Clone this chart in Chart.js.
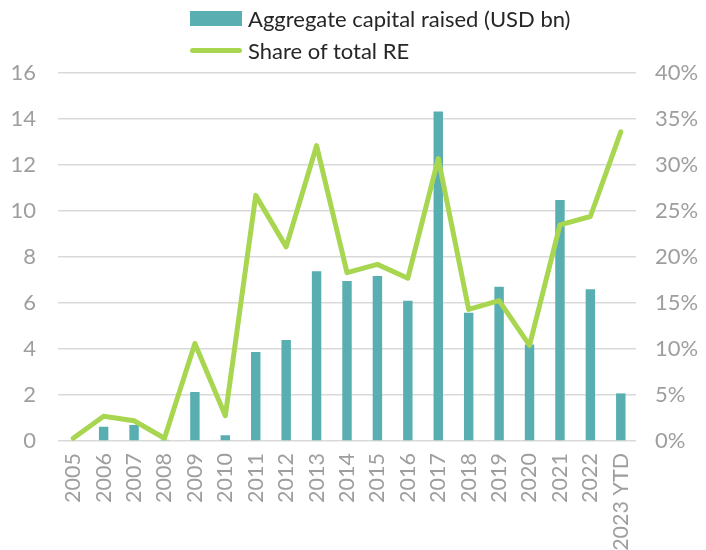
<!DOCTYPE html>
<html>
<head>
<meta charset="utf-8">
<script src="https://cdn.jsdelivr.net/npm/chart.js@4.4.0/dist/chart.umd.min.js"></script>
<style>
  html, body { margin: 0; padding: 0; background: #fff; }
  #wrap { position: relative; width: 706px; height: 550px; }
  #legend { position: absolute; left: 190px; top: 2px; font-family: Lato, sans-serif; font-size: 22px; color: #262626; }
  .item { display: flex; align-items: center; height: 32px; }
  .swatch { width: 52px; margin-right: 6px; }
</style>
</head>
<body>
<div id="wrap">
  <canvas id="chart" width="706" height="550"></canvas>
  <div id="legend"></div>
</div>
<script>
// ==========================================================================
// CAPITAL RAISED VS SHARE OF TOTAL RE
// ==========================================================================

const years = ['2005', '2006', '2007', '2008', '2009', '2010', '2011', '2012', '2013', '2014',
  '2015', '2016', '2017', '2018', '2019', '2020', '2021', '2022', '2023 YTD'];
const capitalRaised = [0, 0.62, 0.70, 0.05, 2.13, 0.25, 3.87, 4.39, 7.38, 6.96,
  7.17, 6.10, 14.33, 5.58, 6.71, 4.20, 10.48, 6.60, 2.07];
const shareOfRE = [0.3, 2.7, 2.2, 0.3, 10.6, 2.75, 26.7, 21.1, 32.1, 18.3,
  19.2, 17.7, 30.7, 14.3, 15.25, 10.4, 23.5, 24.4, 33.6];
const leftTicks = [0, 2, 4, 6, 8, 10, 12, 14, 16];
const rightTicks = [0, 5, 10, 15, 20, 25, 30, 35, 40];

const BAR_COLOR = '#58AEB1';
const LINE_COLOR = '#A9D651';
const TICK_COLOR = '#9E9E9E';
const FONT = "Lato, sans-serif";

const chart = new Chart(document.getElementById('chart'), {
  type: 'bar',
  data: {
    labels: years,
    datasets: [
      {
        type: 'line', label: 'Share of total RE', data: shareOfRE, yAxisID: 'y1',
        borderColor: LINE_COLOR, borderWidth: 5, pointRadius: 0, tension: 0,
        borderJoinStyle: 'round', borderCapStyle: 'round', order: 0
      },
      {
        label: 'Aggregate capital raised (USD bn)', data: capitalRaised, yAxisID: 'y',
        backgroundColor: BAR_COLOR, categoryPercentage: 1, barPercentage: 0.31, order: 1
      }
    ]
  },
  options: {
    responsive: false, animation: false,
    layout: { padding: { top: 73, left: 0, right: 0, bottom: 0 } },
    plugins: { legend: { display: false }, tooltip: { enabled: false } },
    scales: {
      x: {
        grid: { display: false }, border: { display: false },
        ticks: { color: TICK_COLOR, font: { family: FONT, size: 21.5 }, maxRotation: 90, minRotation: 90, padding: 4, autoSkip: false },
        afterFit: s => { s.height = 109; }
      },
      y: {
        position: 'left', min: 0, max: 16,
        afterBuildTicks: s => { s.ticks = leftTicks.map(v => ({ value: v })); },
        grid: { color: '#D9D9D9', lineWidth: 1.5, drawTicks: false }, border: { display: false },
        ticks: { color: TICK_COLOR, font: { family: FONT, size: 22 }, padding: 22 },
        afterFit: s => { s.width = 58; }
      },
      y1: {
        position: 'right', min: 0, max: 40,
        afterBuildTicks: s => { s.ticks = rightTicks.map(v => ({ value: v })); },
        grid: { display: false, drawTicks: false }, border: { display: false },
        ticks: { color: TICK_COLOR, font: { family: FONT, size: 22 }, padding: 19, callback: v => v + '%' },
        afterFit: s => { s.width = 70; }
      }
    }
  }
});

// Legend: bars first, then the line, stacked in two rows
const legend = document.getElementById('legend');
[chart.data.datasets[1], chart.data.datasets[0]].forEach(ds => {
  const row = document.createElement('div');
  row.className = 'item';
  const sw = document.createElement('span');
  sw.className = 'swatch';
  if (ds.type === 'line') {
    sw.style.height = '5px'; sw.style.borderRadius = '3px'; sw.style.background = ds.borderColor;
  } else {
    sw.style.height = '15px'; sw.style.background = ds.backgroundColor;
  }
  const txt = document.createElement('span');
  txt.textContent = ds.label;
  row.appendChild(sw); row.appendChild(txt);
  legend.appendChild(row);
});
</script>
</body>
</html>
